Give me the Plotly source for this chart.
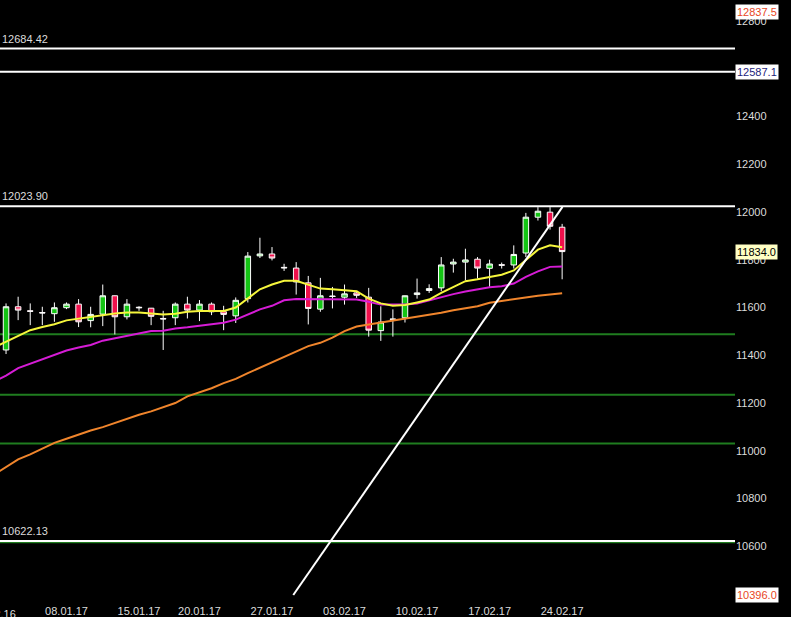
import plotly.graph_objects as go

# ---------------- data ----------------
candle_idx = list(range(47))
opens  = [11422, 11603, 11586, 11579, 11574, 11599, 11614, 11545, 11572, 11649,
          11561, 11601, 11597, 11554, 11557, 11614, 11589, 11614, 11582, 11565,
          11637, 11816, 11824, 11768, 11765, 11703, 11593, 11648, 11643, 11661,
          11643, 11503, 11552, 11557, 11654, 11671, 11682, 11782, 11790, 11802,
          11764, 11779, 11778, 11828, 11978, 11999, 11936]
highs  = [11617, 11645, 11617, 11603, 11621, 11621, 11635, 11603, 11696, 11650,
          11635, 11605, 11598, 11586, 11621, 11645, 11631, 11621, 11607, 11642,
          11832, 11892, 11853, 11783, 11790, 11732, 11724, 11686, 11696, 11665,
          11682, 11605, 11592, 11650, 11721, 11697, 11811, 11804, 11846, 11811,
          11800, 11788, 11860, 11996, 12020, 12020, 11950]
lows   = [11405, 11547, 11526, 11526, 11540, 11593, 11518, 11517, 11522, 11487,
          11550, 11586, 11526, 11422, 11526, 11554, 11543, 11568, 11505, 11535,
          11621, 11807, 11797, 11753, 11654, 11529, 11582, 11596, 11612, 11640,
          11478, 11460, 11478, 11537, 11637, 11661, 11668, 11746, 11714, 11721,
          11686, 11763, 11763, 11811, 11964, 11926, 11718]
closes = [11603, 11589, 11584, 11577, 11599, 11614, 11540, 11571, 11649, 11561,
          11614, 11599, 11563, 11552, 11614, 11589, 11614, 11582, 11571, 11630,
          11815, 11824, 11807, 11766, 11707, 11596, 11649, 11646, 11657, 11651,
          11505, 11539, 11550, 11649, 11661, 11679, 11778, 11790, 11799, 11765,
          11782, 11777, 11822, 11978, 12003, 11940, 11834]

ma_idx = list(range(-1, 47))
ma_fast = [11432, 11457, 11482, 11505, 11518, 11530, 11546, 11554, 11560, 11568, 11575,
           11579, 11579, 11575, 11571, 11574, 11582, 11585, 11585, 11585, 11600,
           11638, 11676, 11696, 11712, 11712, 11696, 11679, 11676, 11672, 11668,
           11637, 11617, 11607, 11610, 11621, 11633, 11661, 11685, 11710, 11718,
           11728, 11737, 11755, 11800, 11842, 11860, 11852]
ma_mid = [11290, 11315, 11346, 11365, 11385, 11401, 11420, 11432, 11443, 11461, 11471,
          11482, 11493, 11501, 11503, 11512, 11517, 11524, 11529, 11536, 11549,
          11571, 11592, 11607, 11630, 11635, 11635, 11635, 11635, 11635, 11633,
          11624, 11612, 11612, 11612, 11617, 11630, 11645, 11656, 11667, 11677,
          11685, 11689, 11700, 11728, 11751, 11770, 11772]
ma_slow = [10900, 10932, 10964, 10985, 11010, 11033, 11050, 11068, 11085, 11099, 11117,
           11133, 11151, 11165, 11182, 11200, 11228, 11245, 11262, 11283, 11301,
           11325, 11348, 11372, 11395, 11417, 11438, 11452, 11474, 11501, 11520,
           11529, 11537, 11543, 11551, 11560, 11568, 11578, 11588, 11595, 11605,
           11620, 11628, 11633, 11642, 11649, 11654, 11660]

trend_x = [23.76, 46.03]
trend_y = [10396, 12021]

white_levels = [12684.42, 12587.1, 12023.90, 10622.13]
white_level_labels = {12684.42: "12684.42", 12023.90: "12023.90", 10622.13: "10622.13"}
green_levels = [11487.5, 11234.6, 11030.4, 10617]

date_ticks = [5, 11, 16, 22, 28, 34, 40, 46]
date_labels = ["08.01.17", "15.01.17", "20.01.17", "27.01.17",
               "03.02.17", "10.02.17", "17.02.17", "24.02.17"]
first_date_label = "31.12.16"

box_high = 12837.5
box_level = 12587.1
box_last = 11834.0
box_low = 10396.0

FONT = "Liberation Sans, Arial, sans-serif"
TXT = "#dcdcdc"

fig = go.Figure()

fig.add_trace(go.Scatter(x=ma_idx, y=ma_slow, mode="lines",
                         line=dict(color="#f0852c", width=2), hoverinfo="skip"))
fig.add_trace(go.Scatter(x=ma_idx, y=ma_mid, mode="lines",
                         line=dict(color="#d61cd6", width=2), hoverinfo="skip"))
fig.add_trace(go.Scatter(x=ma_idx, y=ma_fast, mode="lines",
                         line=dict(color="#f6f63c", width=2), hoverinfo="skip"))

fig.add_trace(go.Candlestick(
    x=candle_idx, open=opens, high=highs, low=lows, close=closes,
    increasing=dict(line=dict(color="white", width=1), fillcolor="#14c414"),
    decreasing=dict(line=dict(color="white", width=1), fillcolor="#f0104c"),
    whiskerwidth=0, hoverinfo="skip"))

fig.add_trace(go.Scatter(x=trend_x, y=trend_y, mode="lines",
                         line=dict(color="white", width=2), hoverinfo="skip"))

shapes = []
for g in green_levels:
    shapes.append(dict(type="line", xref="paper", x0=0, x1=1, yref="y", y0=g, y1=g,
                       line=dict(color="#1f7d1f", width=2), layer="below"))
for w in white_levels:
    shapes.append(dict(type="line", xref="paper", x0=0, x1=1, yref="y", y0=w, y1=w,
                       line=dict(color="white", width=2), layer="below"))

annotations = []
for val, txt in white_level_labels.items():
    annotations.append(dict(xref="paper", x=0, xanchor="left", yref="y", y=val,
                            yanchor="bottom", yshift=2, text=txt, showarrow=False,
                            font=dict(family=FONT, size=11, color=TXT)))

def box(val, txt, fg, bg):
    return dict(xref="paper", x=1, xanchor="left", xshift=0, yref="y", y=val,
                yanchor="middle", text=txt, showarrow=False, bgcolor=bg,
                borderpad=1, font=dict(family=FONT, size=11, color=fg))

annotations.append(box(box_high, "12837.5", "#e8461e", "white"))
annotations.append(box(box_level, "12587.1", "#1c1c7c", "white"))
annotations.append(box(box_last, "11834.0", "black", "#ffffc4"))
annotations.append(box(box_low, "10396.0", "#e8461e", "white"))

annotations.append(dict(xref="x", x=-0.5, xanchor="center", xshift=-6,
                        yref="paper", y=0, yanchor="top", yshift=-3,
                        text=first_date_label, showarrow=False,
                        font=dict(family=FONT, size=11, color=TXT)))

fig.update_layout(
    width=791, height=617,
    margin=dict(l=0, r=56, t=0, b=11),
    paper_bgcolor="black", plot_bgcolor="black",
    showlegend=False, boxgap=0.35,
    shapes=shapes, annotations=annotations,
    xaxis=dict(range=[-0.5, 60.3], showgrid=False, zeroline=False, showline=False,
               tickvals=date_ticks, ticktext=date_labels, ticks="",
               tickfont=dict(family=FONT, size=11, color=TXT),
               rangeslider=dict(visible=False), fixedrange=True),
    yaxis=dict(side="right", range=[10362.5, 12887.5], dtick=200, tick0=0,
               tickformat="d", showgrid=False, zeroline=False, showline=False,
               ticks="", tickfont=dict(family=FONT, size=11, color=TXT),
               fixedrange=True),
)

fig.write_html("out.html",
               config={"displayModeBar": False},
               post_script="document.body.style.margin='0';document.body.style.background='black';")
